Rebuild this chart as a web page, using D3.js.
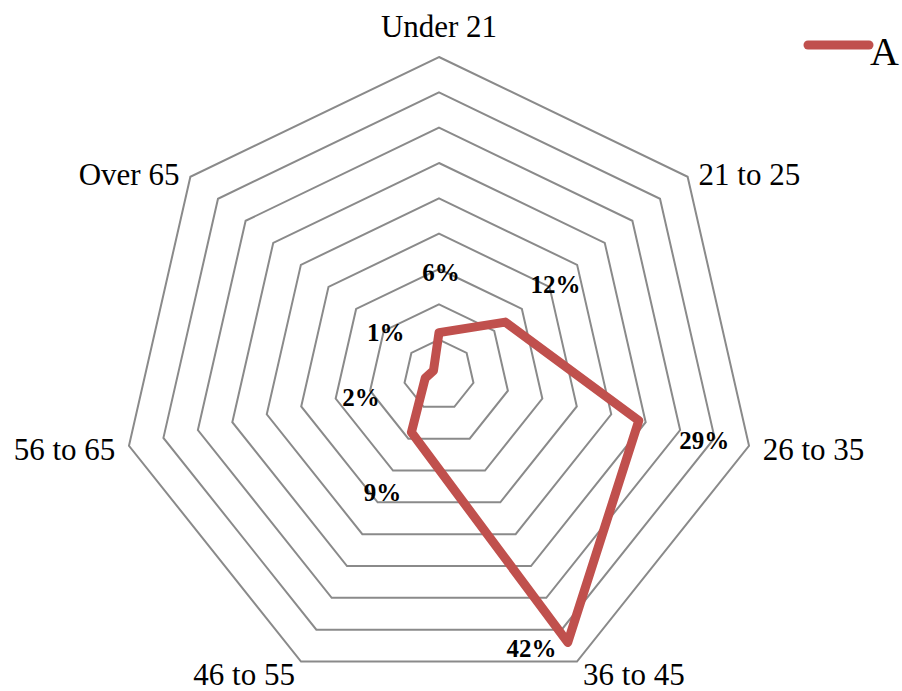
<!DOCTYPE html>
<html>
<head>
<meta charset="utf-8">
<script src="https://cdn.jsdelivr.net/npm/d3@7"></script>
<style>
  body { margin: 0; background: #fff; }
  svg { display: block; }
</style>
</head>
<body>
<svg id="chart"></svg>
<script>
"use strict"

const WIDTH = 902;
const HEIGHT = 691;
const CENTER = { x: 439, y: 375 };
const RADIUS = 318;
const FONT = "'Liberation Serif', 'Times New Roman', serif";
const LINE_COLOR = "#c0504d";
const GRID_COLOR = "#8a8a8a";

// data
const CATEGORIES = ["Under 21", "21 to 25", "26 to 35", "36 to 45", "46 to 55", "56 to 65", "Over 65"];
const VALUES = [6, 12, 29, 42, 9, 2, 1];
const SERIES_NAME = "A";
const RING_TICKS = [5, 10, 15, 20, 25, 30, 35, 40, 45];

// where the data labels sit (px along each axis, plus a nudge)
const LABEL_R = [103, 149, 272, 303, 130, 80, 68];
const LABEL_DX = [2, 0, 0, -39, 0, 0, 0];
const LABEL_DY = [0, 2, 5, 0, 0, 4, 0];

const svg = d3.select("#chart").attr("width", WIDTH).attr("height", HEIGHT);
const g = svg.append("g").attr("transform", `translate(${CENTER.x},${CENTER.y})`);

const rScale = d3.scaleLinear([0, d3.max(RING_TICKS)], [0, RADIUS]);
const angle = i => -Math.PI / 2 + i * 2 * Math.PI / CATEGORIES.length;
const polar = (i, r) => [r * Math.cos(angle(i)), r * Math.sin(angle(i))];

// Rings
const ring = d3.line().curve(d3.curveLinearClosed);
g.append("g").attr("class", "rings")
    .selectAll("path")
    .data(RING_TICKS)
    .join("path")
    .attr("d", t => ring(CATEGORIES.map((c, i) => polar(i, rScale(t)))))
    .attr("fill", "none")
    .attr("stroke", GRID_COLOR)
    .attr("stroke-width", 2);

// Category labels
g.append("g").attr("class", "cat-labels")
    .selectAll("text")
    .data(CATEGORIES)
    .join("text")
    .each(function (c, i) {
        const [x, y] = polar(i, RADIUS + 14);
        const cos = Math.cos(angle(i)), sin = Math.sin(angle(i));
        let anchor = "middle";
        if (cos > 0.1) anchor = "start";
        else if (cos < -0.1) anchor = "end";
        let dy = 0.35;
        if (sin < -0.9) dy = -0.2;
        else if (sin < -0.5) dy = 0.55;
        d3.select(this)
            .attr("x", x)
            .attr("y", y)
            .attr("dy", dy + "em")
            .attr("text-anchor", anchor)
            .text(c);
    })
    .attr("font-family", FONT)
    .attr("font-size", 31)
    .attr("fill", "#000");

// Series line
const radarLine = d3.line().curve(d3.curveLinearClosed);
g.append("path")
    .attr("d", radarLine(VALUES.map((v, i) => polar(i, rScale(v)))))
    .attr("fill", "none")
    .attr("stroke", LINE_COLOR)
    .attr("stroke-width", 9)
    .attr("stroke-linejoin", "round");

// Data labels
g.append("g").attr("class", "data-labels")
    .selectAll("text")
    .data(VALUES)
    .join("text")
    .attr("x", (v, i) => polar(i, LABEL_R[i])[0] + LABEL_DX[i])
    .attr("y", (v, i) => polar(i, LABEL_R[i])[1] + LABEL_DY[i])
    .attr("dy", "0.35em")
    .attr("text-anchor", "middle")
    .attr("font-family", FONT)
    .attr("font-weight", "bold")
    .attr("font-size", 25)
    .text(v => v + "%");

// Legend
const legend = svg.append("g").attr("transform", "translate(808,45)");
legend.append("line")
    .attr("x1", 0).attr("x2", 61)
    .attr("y1", 0).attr("y2", 0)
    .attr("stroke", LINE_COLOR)
    .attr("stroke-width", 9)
    .attr("stroke-linecap", "round");
legend.append("text")
    .attr("x", 62)
    .attr("y", 20)
    .attr("font-family", FONT)
    .attr("font-size", 40)
    .text(SERIES_NAME);
</script>
</body>
</html>
